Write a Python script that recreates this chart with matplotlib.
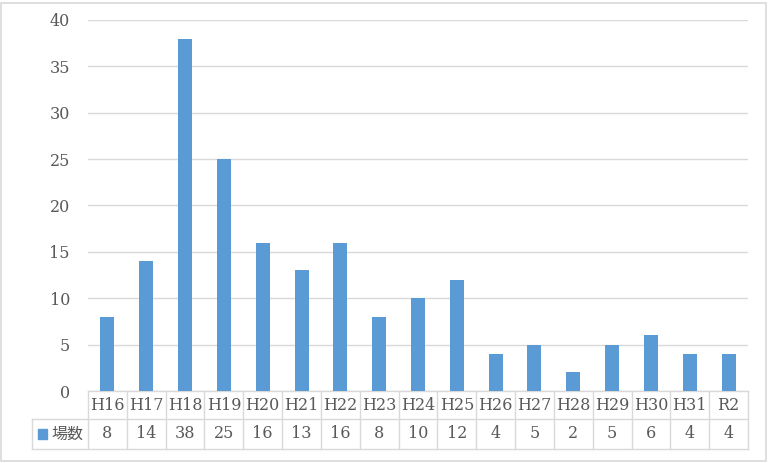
#! /usr/bin/env python3
import matplotlib
matplotlib.use('Agg')
import matplotlib.pyplot as plt
from matplotlib.transforms import blended_transform_factory
from matplotlib.patches import Rectangle

years = ['H16', 'H17', 'H18', 'H19', 'H20', 'H21', 'H22', 'H23', 'H24',
         'H25', 'H26', 'H27', 'H28', 'H29', 'H30', 'H31', 'R2']
counts = [8, 14, 38, 25, 16, 13, 16, 8, 10, 12, 4, 5, 2, 5, 6, 4, 4]
series_name = '場数'

BLUE = '#5B9BD5'
TXT = '#595959'
GRID = '#D9D9D9'
SERIF = ['DejaVu Serif']
JP = ['Noto Sans CJK JP', 'DejaVu Sans']
FS = 11.5

W, H = 768, 463
fig = plt.figure(figsize=(W / 100, H / 100), dpi=100)
fig.patches.append(Rectangle((1 / W, 2 / H), 765 / W, 458 / H, transform=fig.transFigure,
                             fill=False, edgecolor='#D9D9D9', linewidth=1.2))

ax = fig.add_axes([88 / W, (H - 391) / H, 660 / W, 371 / H])
x = list(range(len(years)))
ax.bar(x, counts, width=0.36, color=BLUE, zorder=3)
ax.set_xlim(-0.5, len(years) - 0.5)
ax.set_ylim(0, 40)
ax.set_yticks(range(0, 41, 5))
ax.yaxis.grid(True, color=GRID, linewidth=1)
ax.set_axisbelow(True)
for s in ax.spines.values():
    s.set_visible(False)
ax.tick_params(axis='y', length=0, pad=13, labelcolor=TXT, labelsize=FS)
ax.tick_params(axis='x', length=0, labelbottom=False)
for lab in ax.get_yticklabels():
    lab.set_fontfamily(SERIF)

# data table under the axis
tr = blended_transform_factory(ax.transData, ax.transAxes)
r1 = -28 / 371
r2 = -58 / 371
lx = -0.5 - 56 / (660 / len(years))
lc = dict(color=GRID, linewidth=1, clip_on=False, transform=tr)
ax.plot([-0.5, len(years) - 0.5], [0, 0], **lc)
ax.plot([lx, len(years) - 0.5], [r1, r1], **lc)
ax.plot([lx, len(years) - 0.5], [r2, r2], **lc)
ax.plot([lx, lx], [r1, r2], **lc)
for i in range(len(years) + 1):
    ax.plot([i - 0.5, i - 0.5], [0, r2], **lc)
for i, (yr, c) in enumerate(zip(years, counts)):
    ax.text(i, r1 / 2, yr, transform=tr, ha='center', va='center',
            fontsize=FS, color=TXT, family=SERIF)
    ax.text(i, (r1 + r2) / 2, str(c), transform=tr, ha='center', va='center',
            fontsize=FS, color=TXT, family=SERIF)
ax.add_patch(Rectangle((lx + 0.16, (r1 + r2) / 2 - 0.013), 0.22, 0.026, transform=tr,
                       color=BLUE, clip_on=False))
ax.text(lx + 0.5, (r1 + r2) / 2, series_name, transform=tr, ha='left', va='center',
        fontsize=FS, color=TXT, family=JP)

plt.savefig('out.png', dpi=100)
